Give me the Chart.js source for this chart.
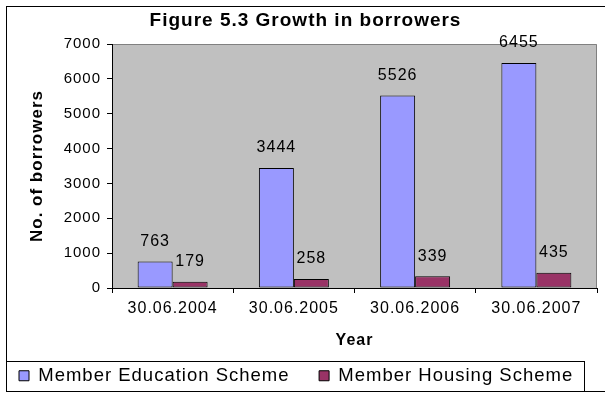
<!DOCTYPE html>
<html>
<head>
<meta charset="utf-8">
<script src="https://cdn.jsdelivr.net/npm/chart.js@4.4.1/dist/chart.umd.min.js"></script>
<style>
  html, body { margin: 0; padding: 0; background: #fff; }
</style>
</head>
<body>
<canvas id="borrowersChart" width="605" height="393"></canvas>
<script>
// values
var years = ['30.06.2004', '30.06.2005', '30.06.2006', '30.06.2007'];
var educationScheme = [763, 3444, 5526, 6455];
var housingScheme = [179, 258, 339, 435];
var yTicks = [0, 1000, 2000, 3000, 4000, 5000, 6000, 7000];

var fontFamily = '"Liberation Sans", Arial, sans-serif';
Chart.defaults.font.family = fontFamily;
Chart.defaults.color = '#000';

// the old excel text is spaced out a bit
var textSpacing = {
    id: 'textSpacing',
    beforeUpdate: function (chart) { chart.ctx.letterSpacing = '1px'; },
    beforeDraw: function (chart) { chart.ctx.letterSpacing = '1px'; }
};

// white page, grey plot area, outer frame and legend box
var frame = {
    id: 'frame',
    beforeDraw: function (chart) {
        var ctx = chart.ctx, a = chart.chartArea;
        ctx.save();
        ctx.fillStyle = '#fff';
        ctx.fillRect(0, 0, chart.width, chart.height);
        ctx.fillStyle = '#c0c0c0';
        ctx.fillRect(a.left, a.top, a.right - a.left, a.bottom - a.top);
        ctx.strokeStyle = '#808080';
        ctx.lineWidth = 1;
        ctx.beginPath();
        ctx.moveTo(a.left, Math.round(a.top) + 0.5);
        ctx.lineTo(Math.round(a.right) - 0.5, Math.round(a.top) + 0.5);
        ctx.lineTo(Math.round(a.right) - 0.5, a.bottom);
        ctx.stroke();
        ctx.strokeStyle = '#000';
        ctx.strokeRect(6.5, 6.5, chart.width + 10, chart.height - 8);
        ctx.strokeRect(6.5, chart.height - 31.5, 578, 30);
        ctx.restore();
    }
};

// value labels above each bar
var barLabels = {
    id: 'barLabels',
    afterDatasetsDraw: function (chart) {
        var ctx = chart.ctx;
        ctx.save();
        ctx.font = '16px ' + fontFamily;
        ctx.fillStyle = '#000';
        ctx.textAlign = 'center';
        ctx.textBaseline = 'middle';
        chart.data.datasets.forEach(function (ds, i) {
            chart.getDatasetMeta(i).data.forEach(function (bar, j) {
                ctx.fillText(ds.data[j], bar.x, bar.y - 20);
            });
        });
        ctx.restore();
    }
};

var ctx = document.getElementById('borrowersChart').getContext('2d');
var chart = new Chart(ctx, {
    type: 'bar',
    data: {
        labels: years,
        datasets: [{
            label: 'Member Education Scheme',
            data: educationScheme,
            backgroundColor: '#9999ff',
            borderColor: '#000',
            borderWidth: 1,
            borderSkipped: false
        }, {
            label: 'Member Housing Scheme',
            data: housingScheme,
            backgroundColor: '#993366',
            borderColor: '#000',
            borderWidth: 1,
            borderSkipped: false
        }]
    },
    options: {
        responsive: false,
        animation: false,
        datasets: {
            bar: { categoryPercentage: 0.577, barPercentage: 1.0 }
        },
        layout: { padding: { left: 14, right: 8, top: 0, bottom: -2 } },
        plugins: {
            title: {
                display: true,
                text: 'Figure 5.3 Growth in borrowers',
                color: '#000',
                font: { size: 19, weight: 'bold' },
                padding: { top: 9.6, bottom: 11.6 }
            },
            legend: {
                position: 'bottom',
                align: 'start',
                labels: {
                    boxWidth: 10,
                    boxHeight: 10,
                    padding: 5,
                    color: '#000',
                    font: { size: 18.5 },
                    // a bit more room between the two entries, like the original
                    generateLabels: function (chart) {
                        var items = Chart.defaults.plugins.legend.labels.generateLabels(chart);
                        items[0].text += '    ';
                        return items;
                    }
                }
            },
            tooltip: { enabled: false }
        },
        scales: {
            x: {
                grid: { display: true, drawOnChartArea: false, color: '#000', tickLength: 5 },
                border: { color: '#000' },
                ticks: { color: '#000', font: { size: 16 }, padding: 6, maxRotation: 0 },
                title: {
                    display: true, text: 'Year', color: '#000',
                    font: { size: 16, weight: 'bold' },
                    padding: { top: 0, bottom: 10.9 }
                },
                afterFit: function (s) { s.height = 73.5; }
            },
            y: {
                min: yTicks[0],
                max: yTicks[yTicks.length - 1],
                ticks: {
                    stepSize: yTicks[1] - yTicks[0],
                    color: '#000',
                    font: { size: 15 },
                    padding: 6,
                    callback: function (v) { return String(v); }
                },
                grid: { display: true, drawOnChartArea: false, color: '#000', tickLength: 5 },
                border: { color: '#000' },
                title: {
                    display: true, text: 'No. of borrowers', color: '#000',
                    font: { size: 17, weight: 'bold' },
                    padding: { top: 13, bottom: 0 }
                },
                afterFit: function (s) { s.width = 98; }
            }
        }
    },
    plugins: [textSpacing, frame, barLabels]
});
</script>
</body>
</html>
